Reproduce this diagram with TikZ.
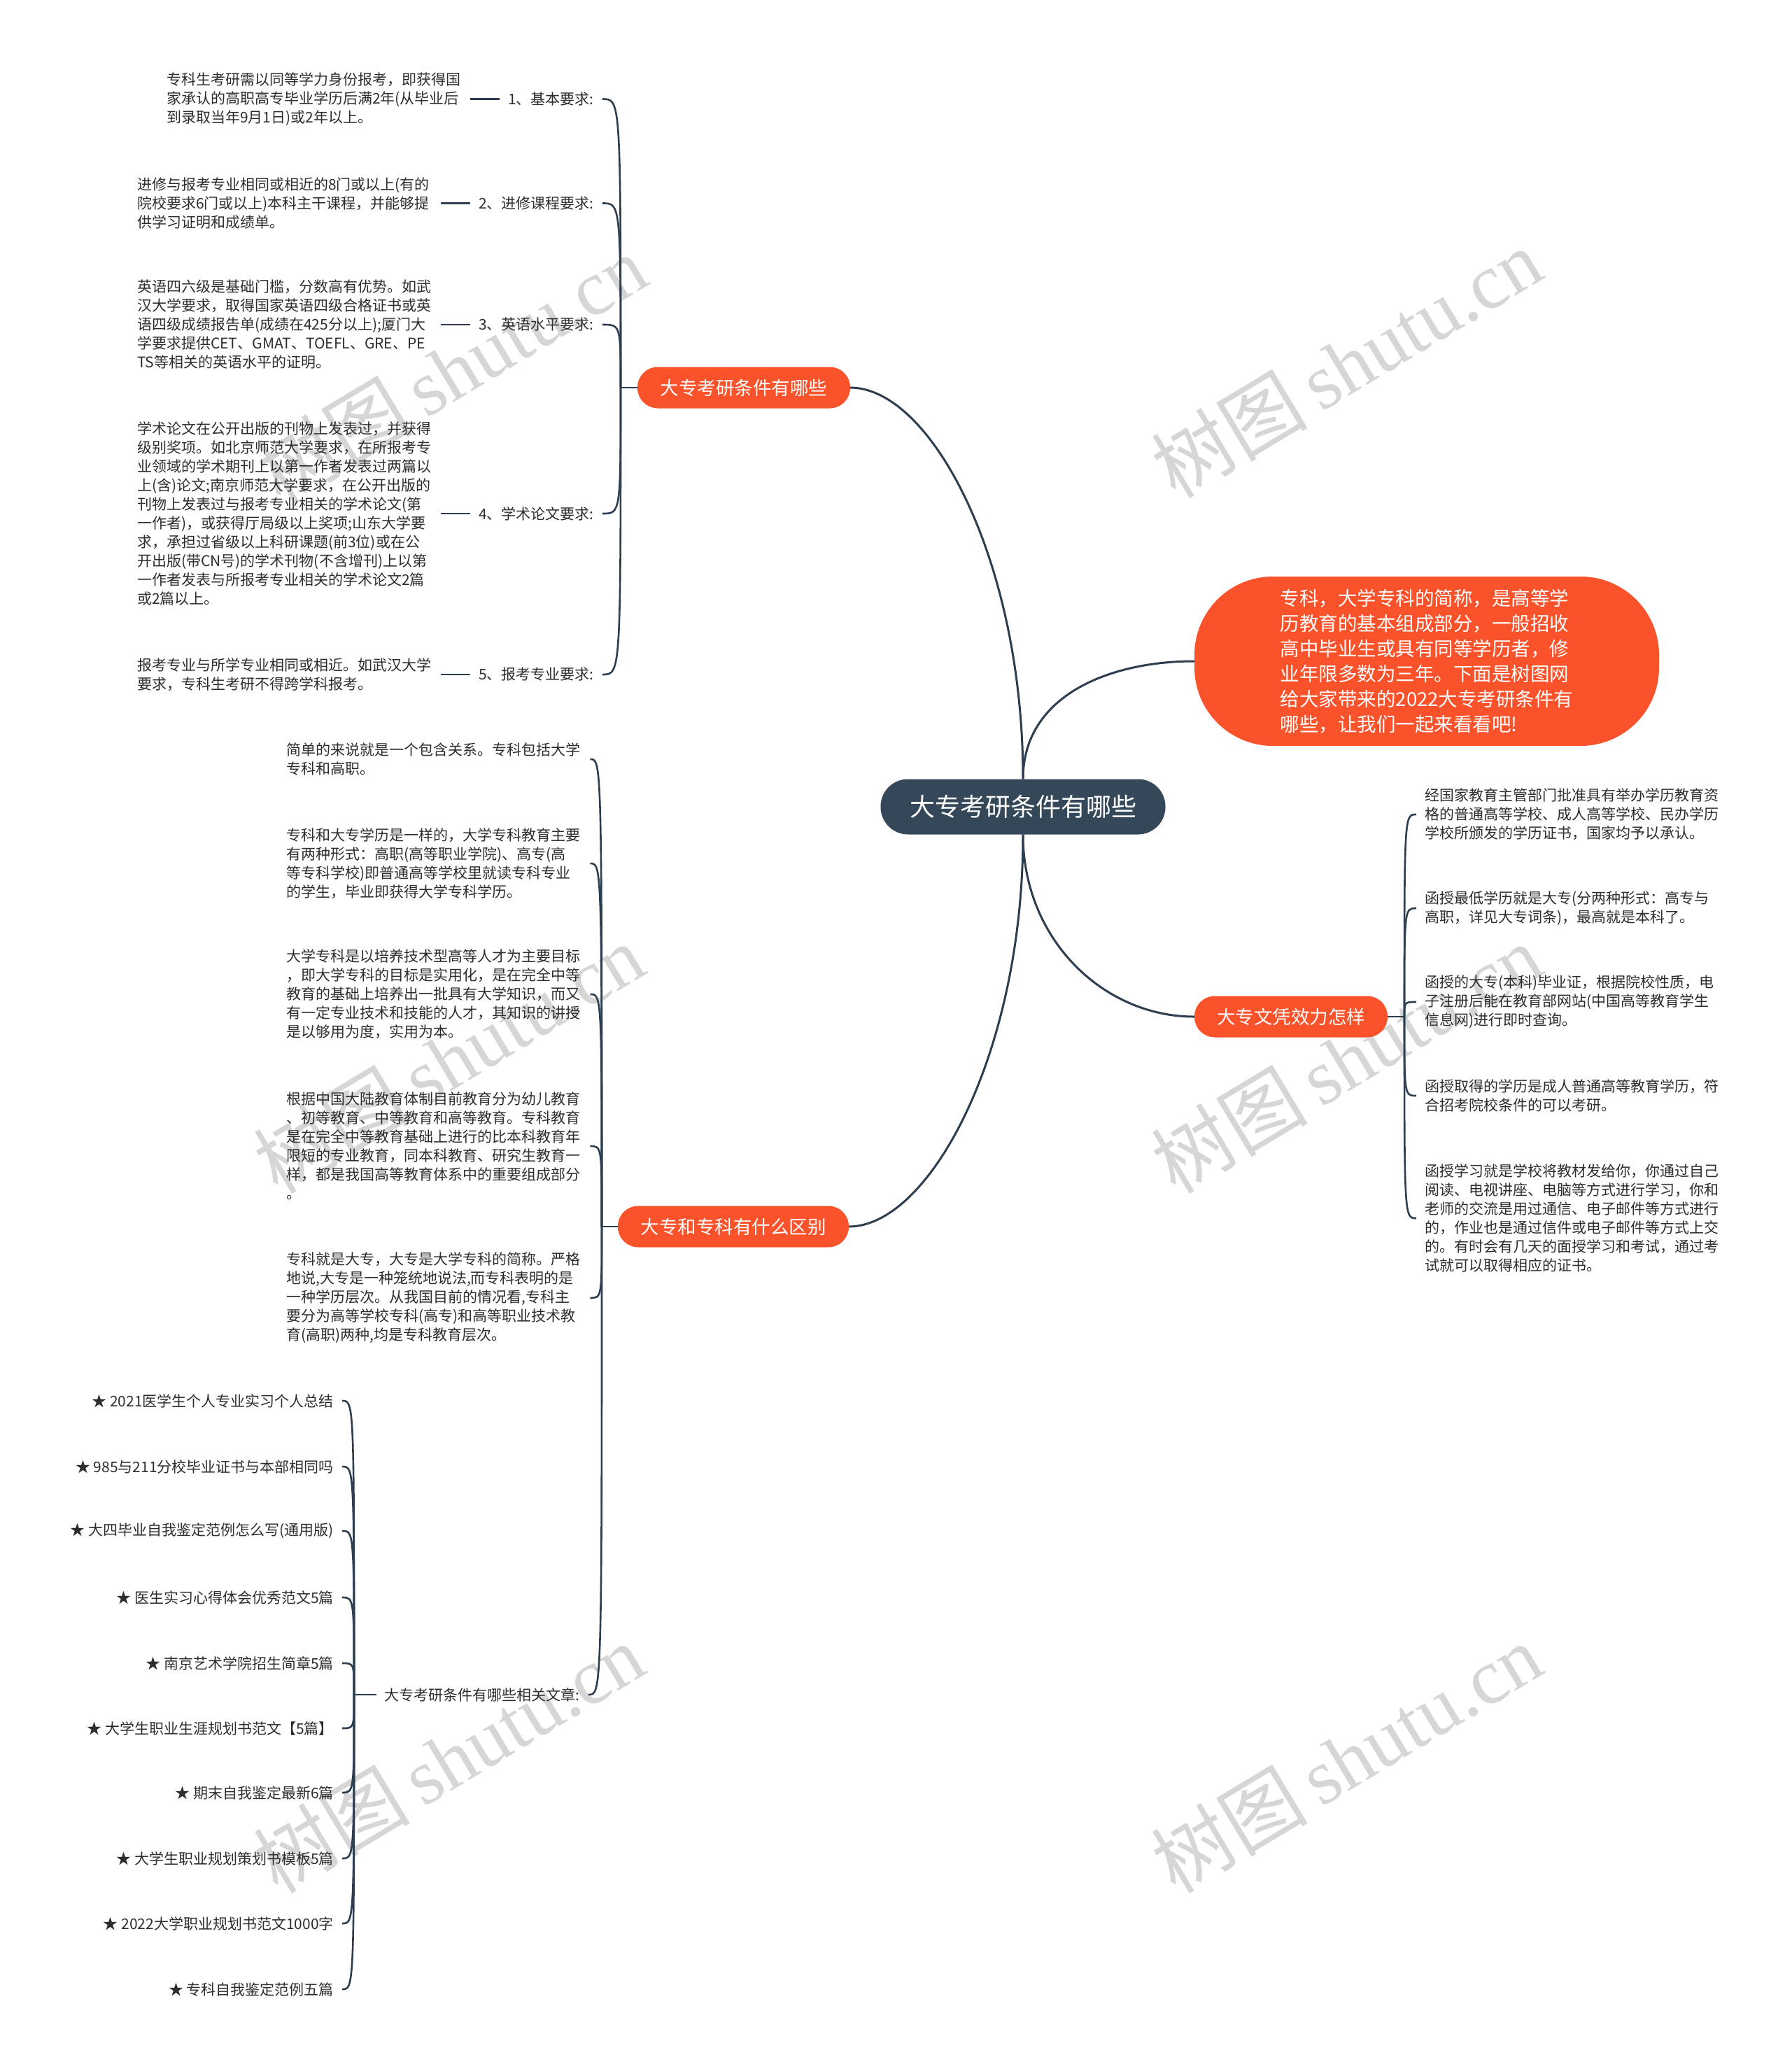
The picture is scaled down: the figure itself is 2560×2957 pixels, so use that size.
\documentclass[tikz,border=0pt]{standalone}
\usepackage{fontspec}
\setmainfont{Noto Sans CJK SC}
\newfontfamily\wmlatin{Liberation Serif}
\usetikzlibrary{calc}
\definecolor{brorange}{RGB}{250,82,42}
\definecolor{darknode}{RGB}{53,72,90}
\definecolor{linec}{RGB}{44,62,80}
\definecolor{txt}{RGB}{45,45,45}
\definecolor{wm}{RGB}{214,214,214}
\tikzset{
  conn/.style={draw=linec, line width=3pt},
  hook/.style={draw=linec, line width=2.6pt},
  centernode/.style={fill=darknode, text=white, rounded corners=39pt, minimum width=407pt, minimum height=79pt, inner sep=0pt, font=\fontsize{36}{40}\selectfont},
  branchnode/.style={fill=brorange, text=white, minimum height=59pt, rounded corners=29pt, inner sep=0pt, font=\fontsize{26.5}{30}\selectfont},
  intronode/.style={fill=brorange, text=white, rounded corners=112pt, minimum width=664pt, minimum height=242pt, inner sep=0pt, align=left, font=\fontsize{27.5}{36}\selectfont},
  desc/.style={text=txt, align=left, text width=422pt, inner xsep=12pt, inner ysep=2pt, font=\fontsize{21}{27}\selectfont},
  lbl/.style={text=txt, inner xsep=12pt, inner ysep=2pt, font=\fontsize{21}{27}\selectfont},
  wmark/.style={text=wm, rotate=31, inner sep=0pt, font=\fontsize{112}{120}\selectfont}
}
\begin{document}
\begin{tikzpicture}[x=1pt,y=-1pt]
\fill[white] (0,0) rectangle (2560,2957);
\useasboundingbox (0,0) rectangle (2560,2957);

% watermarks
\node[wmark] (w1) at (645,528) {树图\,{\wmlatin shutu.cn}};
\node[wmark] (w2) at (1924,519) {树图\,{\wmlatin shutu.cn}};
\node[wmark] (w3) at (641,1513) {树图\,{\wmlatin shutu.cn}};
\node[wmark] (w4) at (1924,1513) {树图\,{\wmlatin shutu.cn}};
\node[wmark] (w5) at (641,2513) {树图\,{\wmlatin shutu.cn}};
\node[wmark] (w6) at (1924,2513) {树图\,{\wmlatin shutu.cn}};

% main nodes
\node[centernode] (c) at (1462,1153) {大专考研条件有哪些};
\node[intronode] (intro) at (2039,945) {专科，大学专科的简称，是高等学\\历教育的基本组成部分，一般招收\\高中毕业生或具有同等学历者，修\\业年限多数为三年。下面是树图网\\给大家带来的2022大专考研条件有\\哪些，让我们一起来看看吧!};
\node[branchnode, minimum width=304pt] (b1) at (1063,554) {大专考研条件有哪些};
\node[branchnode, minimum width=276pt] (b2) at (1845,1453) {大专文凭效力怎样};
\node[branchnode, minimum width=330pt] (b3) at (1048,1753) {大专和专科有什么区别};

\draw[conn] (c.north) .. controls +(0,-313) and +(115,0) .. (b1.east);
\draw[conn] (c.north) .. controls +(0,-120) and +(-120,0) .. (intro.west);
\draw[conn] (c.south) .. controls +(0,150) and +(-130,0) .. (b2.west);
\draw[conn] (c.south) .. controls +(0,313) and +(115,0) .. (b3.east);

% spine points
\coordinate (b1s) at (887,554);
\coordinate (b2s) at (2007,1453);
\coordinate (b3s) at (860,1753);
\coordinate (fs) at (506,2422);

% ---------- branch 1 ----------
\node[lbl, anchor=east] (l1) at (861,141.5) {1、基本要求:};
\node[lbl, anchor=east] (l2) at (861,290.5) {2、进修课程要求:};
\node[lbl, anchor=east] (l3) at (861,464) {3、英语水平要求:};
\node[lbl, anchor=east] (l4) at (861,734) {4、学术论文要求:};
\node[lbl, anchor=east] (l5) at (861,964) {5、报考专业要求:};

\node[desc, anchor=west] (d1) at (226,141.5) {专科生考研需以同等学力身份报考，即获得国\\家承认的高职高专毕业学历后满2年(从毕业后\\到录取当年9月1日)或2年以上。};
\node[desc, anchor=west] (d2) at (184,290.5) {进修与报考专业相同或相近的8门或以上(有的\\院校要求6门或以上)本科主干课程，并能够提\\供学习证明和成绩单。};
\node[desc, anchor=west] (d3) at (184,464) {英语四六级是基础门槛，分数高有优势。如武\\汉大学要求，取得国家英语四级合格证书或英\\语四级成绩报告单(成绩在425分以上);厦门大\\学要求提供CET、GMAT、TOEFL、GRE、PE\\TS等相关的英语水平的证明。};
\node[desc, anchor=west] (d4) at (184,734) {学术论文在公开出版的刊物上发表过，并获得\\级别奖项。如北京师范大学要求，在所报考专\\业领域的学术期刊上以第一作者发表过两篇以\\上(含)论文;南京师范大学要求，在公开出版的\\刊物上发表过与报考专业相关的学术论文(第\\一作者)，或获得厅局级以上奖项;山东大学要\\求，承担过省级以上科研课题(前3位)或在公\\开出版(带CN号)的学术刊物(不含增刊)上以第\\一作者发表与所报考专业相关的学术论文2篇\\或2篇以上。};
\node[desc, anchor=west] (d5) at (184,964) {报考专业与所学专业相同或相近。如武汉大学\\要求，专科生考研不得跨学科报考。};

\draw[hook] (b1.west) -- (b1s);
\foreach \n in {l1,l2,l3,l4,l5}{
  \draw[hook] (b1s) .. controls (b1s |- \n.east) and (b1s |- \n.east) .. (\n.east);
}
\draw[hook] (l1.west) -- (d1.east);
\draw[hook] (l2.west) -- (d2.east);
\draw[hook] (l3.west) -- (d3.east);
\draw[hook] (l4.west) -- (d4.east);
\draw[hook] (l5.west) -- (d5.east);

% ---------- branch 2 ----------
\node[desc, anchor=west] (r1) at (2024,1164) {经国家教育主管部门批准具有举办学历教育资\\格的普通高等学校、成人高等学校、民办学历\\学校所颁发的学历证书，国家均予以承认。};
\node[desc, anchor=west] (r2) at (2024,1298) {函授最低学历就是大专(分两种形式：高专与\\高职，详见大专词条)，最高就是本科了。};
\node[desc, anchor=west] (r3) at (2024,1432) {函授的大专(本科)毕业证，根据院校性质，电\\子注册后能在教育部网站(中国高等教育学生\\信息网)进行即时查询。};
\node[desc, anchor=west] (r4) at (2024,1566) {函授取得的学历是成人普通高等教育学历，符\\合招考院校条件的可以考研。};
\node[desc, anchor=west] (r5) at (2024,1741) {函授学习就是学校将教材发给你，你通过自己\\阅读、电视讲座、电脑等方式进行学习，你和\\老师的交流是用过通信、电子邮件等方式进行\\的，作业也是通过信件或电子邮件等方式上交\\的。有时会有几天的面授学习和考试，通过考\\试就可以取得相应的证书。};

\draw[hook] (b2.east) -- (b2s);
\foreach \n in {r1,r2,r3,r4,r5}{
  \draw[hook] (b2s) .. controls (b2s |- \n.west) and (b2s |- \n.west) .. (\n.west);
}

% ---------- branch 3 ----------
\node[desc, anchor=west] (t1) at (397,1085) {简单的来说就是一个包含关系。专科包括大学\\专科和高职。};
\node[desc, anchor=west] (t2) at (397,1234) {专科和大专学历是一样的，大学专科教育主要\\有两种形式：高职(高等职业学院)、高专(高\\等专科学校)即普通高等学校里就读专科专业\\的学生，毕业即获得大学专科学历。};
\node[desc, anchor=west] (t3) at (397,1421) {大学专科是以培养技术型高等人才为主要目标\\，即大学专科的目标是实用化，是在完全中等\\教育的基础上培养出一批具有大学知识，而又\\有一定专业技术和技能的人才，其知识的讲授\\是以够用为度，实用为本。};
\node[desc, anchor=west] (t4) at (397,1638) {根据中国大陆教育体制目前教育分为幼儿教育\\、初等教育、中等教育和高等教育。专科教育\\是在完全中等教育基础上进行的比本科教育年\\限短的专业教育，同本科教育、研究生教育一\\样，都是我国高等教育体系中的重要组成部分\\。};
\node[desc, anchor=west] (t5) at (397,1855) {专科就是大专，大专是大学专科的简称。严格\\地说,大专是一种笼统地说法,而专科表明的是\\一种学历层次。从我国目前的情况看,专科主\\要分为高等学校专科(高专)和高等职业技术教\\育(高职)两种,均是专科教育层次。};
\node[lbl, anchor=east] (f) at (841,2422) {大专考研条件有哪些相关文章:};

\draw[hook] (b3.west) -- (b3s);
\foreach \n in {t1,t2,t3,t4,t5,f}{
  \draw[hook] (b3s) .. controls (b3s |- \n.east) and (b3s |- \n.east) .. (\n.east);
}

% related articles
\node[lbl, anchor=east] (s1) at (489,2002) {★ 2021医学生个人专业实习个人总结};
\node[lbl, anchor=east] (s2) at (489,2096) {★ 985与211分校毕业证书与本部相同吗};
\node[lbl, anchor=east] (s3) at (489,2188) {★ 大四毕业自我鉴定范例怎么写(通用版)};
\node[lbl, anchor=east] (s4) at (489,2283) {★ 医生实习心得体会优秀范文5篇};
\node[lbl, anchor=east] (s5) at (489,2377) {★ 南京艺术学院招生简章5篇};
\node[lbl, anchor=east] (s6) at (489,2470) {★ 大学生职业生涯规划书范文【5篇】};
\node[lbl, anchor=east] (s7) at (489,2562) {★ 期末自我鉴定最新6篇};
\node[lbl, anchor=east] (s8) at (489,2656) {★ 大学生职业规划策划书模板5篇};
\node[lbl, anchor=east] (s9) at (489,2749) {★ 2022大学职业规划书范文1000字};
\node[lbl, anchor=east] (s10) at (489,2843) {★ 专科自我鉴定范例五篇};

\draw[hook] (f.west) -- (fs);
\foreach \n in {s1,s2,s3,s4,s5,s6,s7,s8,s9,s10}{
  \draw[hook] (fs) .. controls (fs |- \n.east) and (fs |- \n.east) .. (\n.east);
}
\end{tikzpicture}
\end{document}
